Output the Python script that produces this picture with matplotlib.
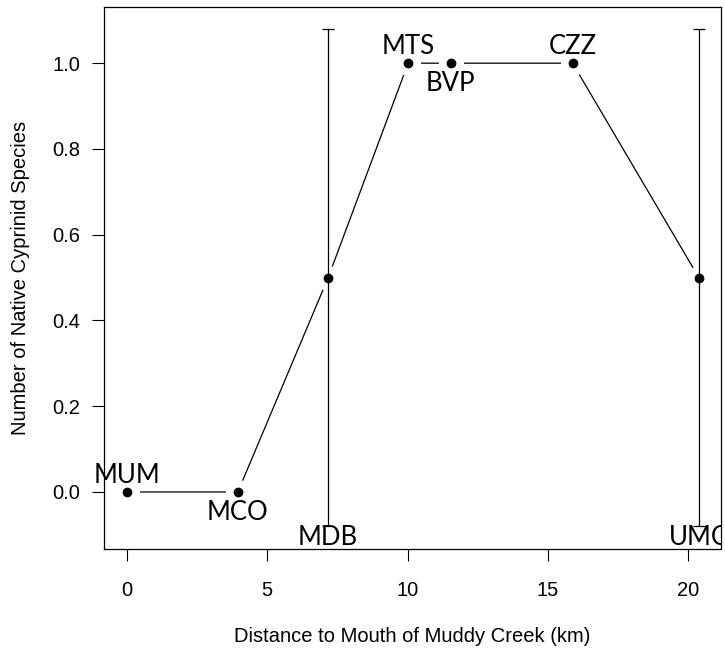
import matplotlib
matplotlib.use("Agg")
import matplotlib.pyplot as plt

# sites along Muddy Creek
sites = ["MUM", "MCO", "MDB", "MTS", "BVP", "CZZ", "UMC"]
distance_km = [0.0, 3.95, 7.17, 10.02, 11.53, 15.88, 20.38]
n_species = [0.0, 0.0, 0.5, 1.0, 1.0, 1.0, 0.5]
err = [0.0, 0.0, 0.58, 0.0, 0.0, 0.0, 0.58]
label_pos = ["above", "below", "bar", "above", "below", "above", "bar"]

xticks = [0, 5, 10, 15, 20]
yticks = [0.0, 0.2, 0.4, 0.6, 0.8, 1.0]

fig = plt.figure(figsize=(7.25, 6.53), dpi=100)
ax = fig.add_axes([104 / 725, 1 - 549 / 653, 617 / 725, 542 / 653])

# R-style type="b": line broken around each point
ax.plot(distance_km, n_species, color="black", lw=0.9, zorder=1)
ax.plot(distance_km, n_species, "o", ms=17, color="white", mec="white", zorder=2)

for x, y, e in zip(distance_km, n_species, err):
    if e > 0:
        ax.errorbar(x, y, yerr=e, fmt="none", ecolor="black", elinewidth=0.9,
                    capsize=4, capthick=0.9, zorder=3)

ax.plot(distance_km, n_species, "o", ms=6, color="black", zorder=4)

for name, x, y, e, p in zip(sites, distance_km, n_species, err, label_pos):
    if p == "above":
        xy, dy = (x, y), 9
    elif p == "below":
        xy, dy = (x, y), -28
    else:
        xy, dy = (x, y - e), -19
    ax.annotate(name, xy=xy, xytext=(0, dy), textcoords="offset pixels",
                ha="center", va="baseline", fontsize=18.5, family="Lato",
                annotation_clip=False, clip_on=(p == "bar"), zorder=5)

ax.set_xlim(-0.82, 21.17)
ax.set_ylim(-0.133, 1.131)
ax.set_xticks(xticks)
ax.set_xticklabels([str(t) for t in xticks])
ax.set_yticks(yticks)
ax.set_yticklabels([f"{t:.1f}" for t in yticks])

for s in ax.spines.values():
    s.set_linewidth(0.9)
ax.tick_params(direction="out", length=8.6, width=0.8, labelsize=14.5,
               labelfontfamily="Liberation Sans")
ax.tick_params(axis="y", pad=8.5)
ax.tick_params(axis="x", pad=14.5)

ax.set_xlabel("Distance to Mouth of Muddy Creek (km)", fontsize=14.5,
              family="Liberation Sans", labelpad=19.5)
ax.set_ylabel("Number of Native Cyprinid Species", fontsize=14.5,
              family="Liberation Sans", labelpad=16)

fig.savefig("out.png", dpi=100)
